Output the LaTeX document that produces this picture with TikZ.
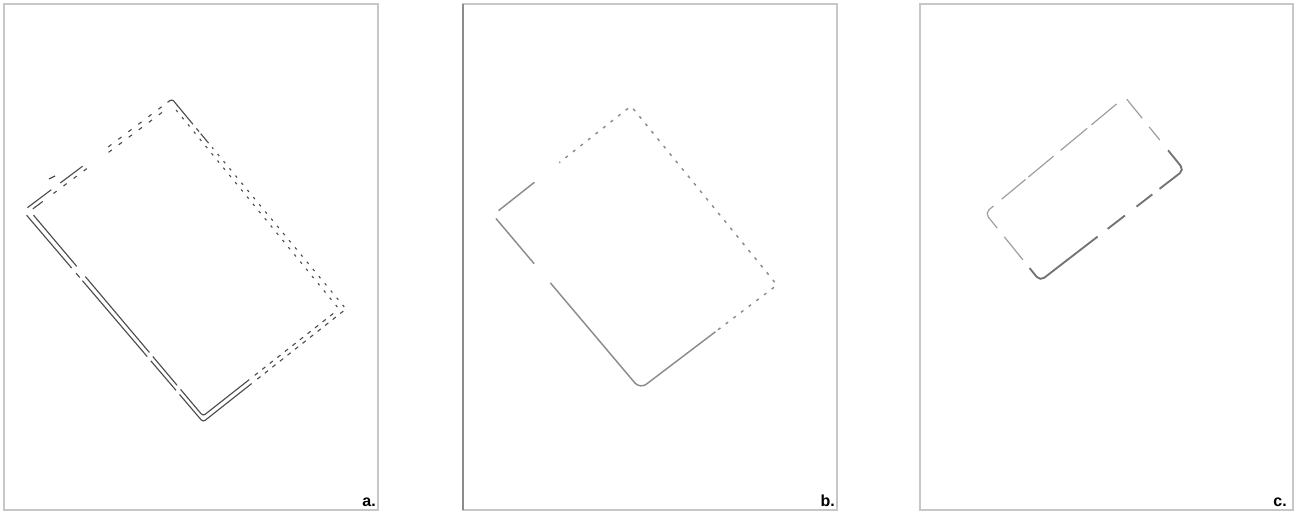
\documentclass[tikz,border=0pt]{standalone}
\usepackage{fontspec}
\setsansfont{Liberation Sans}
\usetikzlibrary{calc}

\begin{document}
\begin{tikzpicture}[x=0.75pt, y=-0.75pt]
        \tikzstyle{frame} = [draw=black!22, line width=1.2pt]
        \tikzstyle{tag} = [anchor=base east, inner sep=0pt, font=\sffamily\bfseries\fontsize{12}{14}\selectfont]
        \tikzstyle{aline} = [draw=black!70, line width=0.85pt, rounded corners=2pt]
        \tikzstyle{adash} = [aline, dash pattern=on 3pt off 4.2pt]
        \tikzstyle{adot} = [aline, dash pattern=on 1.9pt off 5.1pt]
        \tikzstyle{alongdash} = [aline, dash pattern=on 3pt off 6.4pt]
        \tikzstyle{bline} = [draw=black!45, line width=1.1pt, rounded corners=6pt]
        \tikzstyle{bdash} = [draw=black!45, line width=1.1pt, rounded corners=1pt, dash pattern=on 2.2pt off 5pt]
        \tikzstyle{clight} = [draw=black!38, line width=0.9pt, rounded corners=4pt]
        \tikzstyle{cdark} = [draw=black!55, line width=1.4pt, rounded corners=4pt]

        \useasboundingbox (0,0) rectangle (1295,513);

        % frames
        \draw[frame] (4,4) rectangle (378,510);
        \draw[frame] (463,4) rectangle (837,510);
        \draw[draw=black!45, line width=1.1pt] (463,4) -- (463,510);
        \draw[frame] (920,4) rectangle (1293,510);

        % panel a: two outlines
        \coordinate (aTo) at (172,99);
        \coordinate (aRo) at (346,309);
        \coordinate (aBo) at (203,422);
        \coordinate (aLo) at (23,211);
        \coordinate (aTi) at (172,105);
        \coordinate (aRi) at (339,309);
        \coordinate (aBi) at (203,416);
        \coordinate (aLi) at (30,211);

        \foreach \s in {o,i} {
            \draw[aline] ($(aL\s)!0.02!(aB\s)$) -- ($(aL\s)!0.27!(aB\s)$);
            \draw[aline] ($(aL\s)!0.71!(aB\s)$) -- ($(aL\s)!0.85!(aB\s)$);
            \draw[aline] ($(aL\s)!0.87!(aB\s)$) -- (aB\s) -- ($(aB\s)!0.34!(aR\s)$);
            \draw[adash] ($(aB\s)!0.38!(aR\s)$) -- ($(aB\s)!0.99!(aR\s)$);
            \draw[alongdash] ($(aT\s)!0.07!(aL\s)$) -- ($(aT\s)!0.46!(aL\s)$);
        }
        % outer only
        \draw[aline] ($(aLo)!0.295!(aBo)$) -- ($(aLo)!0.315!(aBo)$);
        \draw[aline] ($(aLo)!0.33!(aBo)$) -- ($(aLo)!0.69!(aBo)$);
        \draw[adot] ($(aRo)!0.01!(aTo)$) -- ($(aRo)!0.77!(aTo)$);
        \draw[aline] ($(aTo)!0.14!(aRo)$) -- ($(aTo)!0.155!(aRo)$);
        \draw[aline] ($(aTo)!0.165!(aRo)$) -- ($(aTo)!0.21!(aRo)$);
        \draw[aline] ($(aTo)!0.03!(aLo)$) -- (aTo) -- ($(aTo)!0.12!(aRo)$);
        \draw[aline] ($(aTo)!0.60!(aLo)$) -- ($(aTo)!0.75!(aLo)$);
        \draw[aline] ($(aTo)!0.81!(aLo)$) -- ($(aTo)!0.97!(aLo)$);
        \draw[aline] (49,179) -- (55,176);
        % inner only
        \draw[aline] ($(aLi)!0.32!(aBi)$) -- ($(aLi)!0.69!(aBi)$);
        \draw[adot] ($(aRi)!0.01!(aTi)$) -- ($(aRi)!0.98!(aTi)$);
        \draw[alongdash] ($(aTi)!0.60!(aLi)$) -- ($(aTi)!0.88!(aLi)$);
        \draw[aline] ($(aTi)!0.91!(aLi)$) -- ($(aTi)!0.98!(aLi)$);

        % panel b
        \coordinate (bT) at (631,106);
        \coordinate (bR) at (777,285);
        \coordinate (bB) at (640,389);
        \coordinate (bL) at (493,215);

        \draw[bdash] ($(bB)!0.57!(bR)$) -- (bR) -- (bT) -- ($(bT)!0.52!(bL)$);
        \draw[bline] ($(bT)!0.70!(bL)$) -- ($(bT)!0.96!(bL)$);
        \draw[bline] ($(bL)!0.02!(bB)$) -- ($(bL)!0.28!(bB)$);
        \draw[bline] ($(bL)!0.39!(bB)$) -- (bB) -- ($(bB)!0.55!(bR)$);

        % panel c
        \coordinate (cT) at (1125,97);
        \coordinate (cR) at (1184,170);
        \coordinate (cB) at (1040,281);
        \coordinate (cL) at (985,213);

        \foreach \u/\v in {0.06/0.24, 0.27/0.46, 0.51/0.69, 0.71/0.88}
            \draw[clight] ($(cT)!\u!(cL)$) -- ($(cT)!\v!(cL)$);
        \draw[clight] ($(cT)!0.94!(cL)$) -- (cL) -- ($(cL)!0.22!(cB)$);
        \draw[clight] ($(cL)!0.35!(cB)$) -- ($(cL)!0.69!(cB)$);
        \draw[clight] ($(cR)!0.41!(cT)$) -- ($(cR)!0.59!(cT)$);
        \draw[clight] ($(cR)!0.71!(cT)$) -- ($(cR)!0.97!(cT)$);
        \draw[cdark] ($(cL)!0.81!(cB)$) -- (cB) -- ($(cB)!0.40!(cR)$);
        \draw[cdark] ($(cB)!0.47!(cR)$) -- ($(cB)!0.59!(cR)$);
        \draw[cdark] ($(cB)!0.67!(cR)$) -- ($(cB)!0.78!(cR)$);
        \draw[cdark] ($(cB)!0.83!(cR)$) -- (cR) -- ($(cR)!0.27!(cT)$);

        % panel tags
        \node[tag] (taga) at (376,506) {a.};
        \node[tag] (tagb) at (835,506) {b.};
        \node[tag] (tagc) at (1287,506) {c.};
\end{tikzpicture}
\end{document}
